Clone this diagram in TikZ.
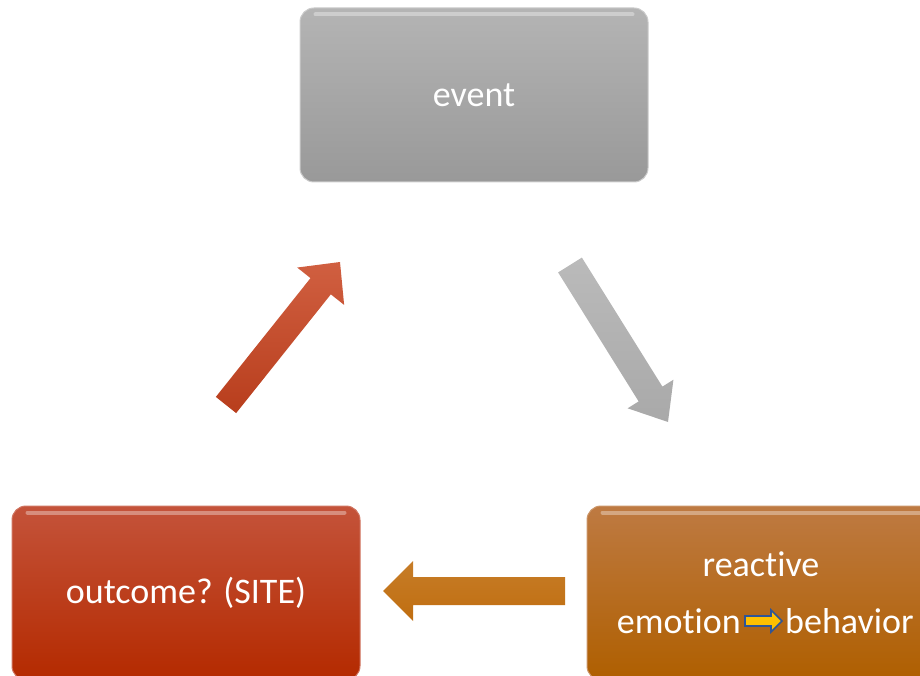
\documentclass[tikz,border=0pt]{standalone}
\usepackage{fontspec}
\setmainfont[Ligatures=NoCommon]{Carlito}
\usetikzlibrary{calc}
\definecolor{evtop}{HTML}{B4B4B4}
\definecolor{evbot}{HTML}{999999}
\definecolor{outtop}{HTML}{C4533A}
\definecolor{outbot}{HTML}{B42A00}
\definecolor{reatop}{HTML}{BE7A42}
\definecolor{reabot}{HTML}{AF5F00}
\definecolor{redarrow}{HTML}{C8431F}
\definecolor{grayarrow}{HTML}{A9A9A9}
\definecolor{orarrow}{HTML}{C06E10}
\definecolor{smallyellow}{HTML}{FFC000}
\definecolor{smallblue}{HTML}{2F5597}
\newcommand{\fatarrow}[6]{%
  \coordinate (fa-h) at ($(#2)!#5!(#1)$);
  \path[#6] ($(#1)!#3!90:(#2)$) -- ($(fa-h)!#3!-90:(#1)$) -- ($(fa-h)!#4!-90:(#1)$)
    -- (#2) -- ($(fa-h)!#4!90:(#1)$) -- ($(fa-h)!#3!90:(#1)$) -- ($(#1)!#3!-90:(#2)$) -- cycle;}
\tikzset{
  box/.style={rectangle, rounded corners=14pt, minimum width=348pt, minimum height=174pt,
    inner sep=0pt, text=white, font=\fontsize{36}{40}\selectfont},
  txt/.style={text=white, inner sep=0pt, font=\fontsize{36}{40}\selectfont},
  gloss/.style={white, opacity=0.35, line width=4pt, line cap=round},
}
\begin{document}
\begin{tikzpicture}[x=1pt,y=-1pt]
\useasboundingbox (0,0) rectangle (920,676);
\clip (0,0) rectangle (920,676);
% boxes
\node[box, top color=evtop, bottom color=evbot, draw=evtop!70!white, line width=1pt] (ev) at (474,95) {event};
\node[box, top color=outtop, bottom color=outbot, draw=outtop!80!white, line width=1pt] (out) at (186,593) {outcome? (SITE)};
\node[box, top color=reatop, bottom color=reabot, draw=reatop!80!white, line width=1pt] (rea) at (761,593) {};
% gloss strips
\draw[gloss] ($(ev.north west)+(16,7)$) -- ($(ev.north east)+(-16,7)$);
\draw[gloss] ($(out.north west)+(16,7)$) -- ($(out.north east)+(-16,7)$);
\draw[gloss] ($(rea.north west)+(16,7)$) -- ($(rea.north east)+(-16,7)$);
% texts in reactive box
\node[txt, anchor=base] (reac) at (761,576) {reactive};
\node[txt, anchor=base east] (emo) at (741,633) {emotion};
\node[txt, anchor=base west] (beh) at (785,633) {behavior};
\coordinate (sa1) at ($(emo.base east)+(4,-12)$);
\coordinate (sa2) at ($(beh.base west)+(-3,-12)$);
\fatarrow{sa1}{sa2}{5pt}{11pt}{11pt}{fill=smallyellow, draw=smallblue, line width=1.6pt, line join=miter}
% big arrows
\coordinate (r0) at (226,405);
\coordinate (r1) at (340,262);
\fatarrow{r0}{r1}{13pt}{30pt}{31pt}{top color=redarrow!85!white, bottom color=redarrow!92!black}
\coordinate (g0) at (570,265);
\coordinate (g1) at (668,422);
\fatarrow{g0}{g1}{14pt}{27pt}{33pt}{top color=grayarrow!80!white, bottom color=grayarrow}
\coordinate (o0) at (565,591);
\coordinate (o1) at (383,591);
\fatarrow{o0}{o1}{14pt}{30pt}{30pt}{top color=orarrow!90!white, bottom color=orarrow}
\end{tikzpicture}
\end{document}
